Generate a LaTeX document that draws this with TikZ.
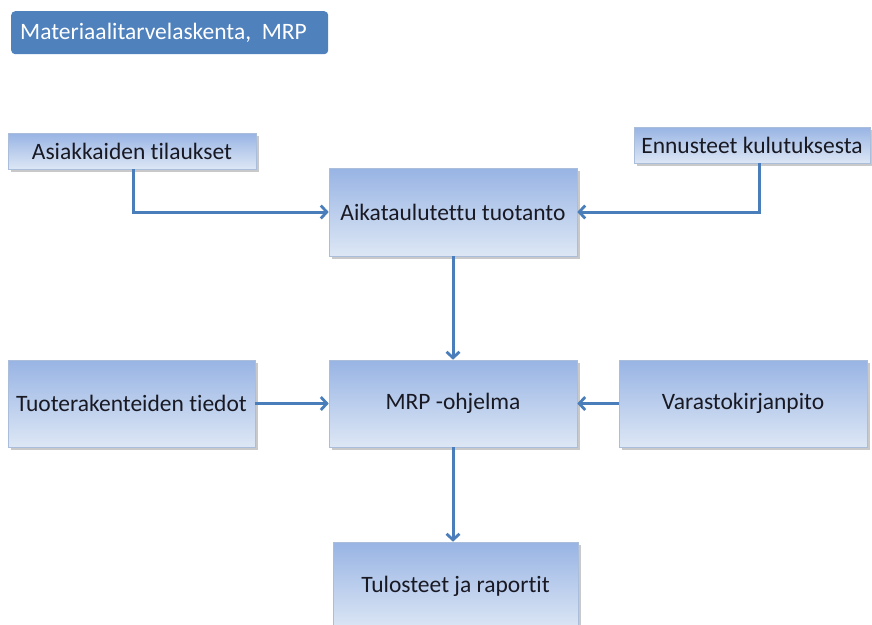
\documentclass[tikz,border=0pt]{standalone}
\usepackage{fontspec}
\setmainfont[Ligatures=NoCommon]{Carlito}
\usetikzlibrary{arrows.meta,shadows}
\definecolor{titlefill}{HTML}{4F81BD}
\definecolor{gradtop}{RGB}{152,180,228}
\definecolor{gradbot}{RGB}{221,231,245}
\definecolor{boxline}{RGB}{170,190,220}
\definecolor{arrowcol}{RGB}{74,126,187}
\definecolor{txt}{RGB}{25,25,35}
\tikzset{
  flowbox/.style={rectangle, draw=boxline, line width=0.6pt, top color=gradtop, bottom color=gradbot,
    text=txt, font=\fontsize{23.5}{26}\selectfont, inner sep=0pt,
    drop shadow={shadow xshift=2.5pt, shadow yshift=-2.5pt, opacity=0.35, fill=black!60}},
  conn/.style={draw=arrowcol, line width=3pt, -{Straight Barb[length=6pt,width=13pt,line width=2.8pt]}},
  titlebox/.style={rectangle, rounded corners=4pt, fill=titlefill, text=white,
    inner sep=0pt, anchor=north west}
}
\begin{document}
\begin{tikzpicture}[x=1pt,y=-1pt]
\useasboundingbox[fill=white] (0,0) rectangle (872,624);
% title
\node[titlebox, minimum width=317pt, minimum height=43pt] (title) at (11,11) {};
\node[text=white, font=\fontsize{23.5}{26}\selectfont, anchor=west, inner sep=0pt] (titletext) at (20,32.5) {Materiaalitarvelaskenta,\ \ MRP};
% boxes
\node[flowbox, minimum width=248pt, minimum height=36pt] (asi) at (132,151) {Asiakkaiden tilaukset};
\node[flowbox, minimum width=248pt, minimum height=88pt] (aik) at (453,212) {Aikataulutettu tuotanto};
\node[flowbox, minimum width=236pt, minimum height=36pt] (enn) at (752,145) {Ennusteet kulutuksesta};
\node[flowbox, minimum width=247pt, minimum height=87pt] (tuo) at (131.5,403.5) {Tuoterakenteiden tiedot};
\node[flowbox, minimum width=248pt, minimum height=87pt] (mrp) at (453,403.5) {MRP -ohjelma};
\node[flowbox, minimum width=248pt, minimum height=87pt] (var) at (743,403.5) {Varastokirjanpito};
\node[flowbox, minimum width=245pt, minimum height=88pt] (tul) at (455.5,586) {Tulosteet ja raportit};
% connectors
\draw[conn] (asi.south -| 133,0) |- (aik.west);
\draw[conn] (enn.south -| 759,0) |- (aik.east);
\draw[conn] (aik.south) -- (mrp.north);
\draw[conn] (tuo.east) -- (mrp.west);
\draw[conn] (var.west) -- (mrp.east);
\draw[conn] (mrp.south) -- (tul.north -| mrp.south);
\end{tikzpicture}
\end{document}
